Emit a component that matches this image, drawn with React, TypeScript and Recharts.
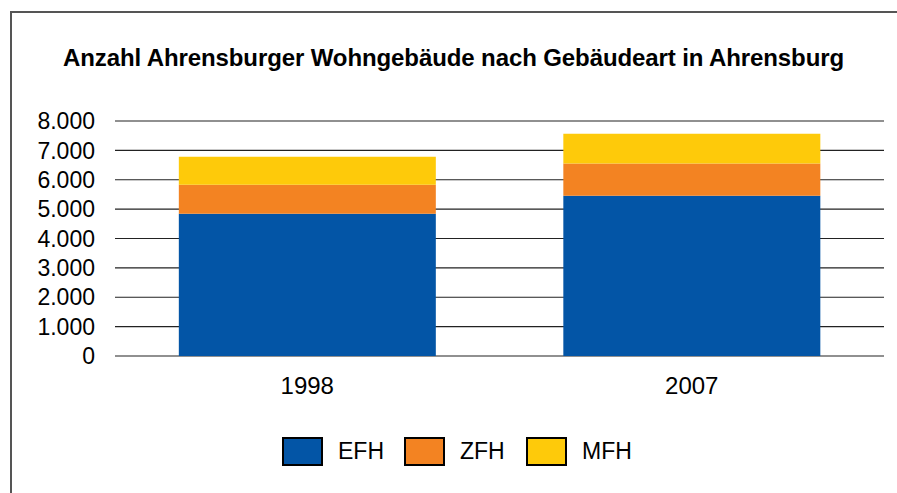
import { Bar, BarChart, CartesianGrid, XAxis, YAxis } from "recharts";

const YEARS = ["1998", "2007"];
const EFH = [4840, 5455];
const ZFH = [990, 1095];
const MFH = [950, 1020];
const Y_TICKS = [0, 1000, 2000, 3000, 4000, 5000, 6000, 7000, 8000];

const SERIES = [
  { key: "EFH", color: "#0355a6" },
  { key: "ZFH", color: "#f38322" },
  { key: "MFH", color: "#feca0a" },
];

const data = YEARS.map((year, i) => ({
  year,
  EFH: EFH[i],
  ZFH: ZFH[i],
  MFH: MFH[i],
}));

const FONT = '"Liberation Sans", Arial, Helvetica, sans-serif';

// German thousands separator, e.g. 8.000
const fmt = (v: number) =>
  String(v).replace(/\B(?=(\d{3})+(?!\d))/g, ".");

export default function App() {
  return (
    <div
      style={{
        position: "absolute",
        left: 0,
        top: 0,
        width: 897,
        height: 493,
        background: "#fff",
        fontFamily: FONT,
        overflow: "hidden",
      }}
    >
      <div
        style={{
          position: "absolute",
          left: 10,
          top: 11,
          right: 0,
          bottom: 0,
          borderLeft: "2px solid #555",
          borderTop: "2px solid #555",
        }}
      />
      <div
        style={{
          position: "absolute",
          left: 10,
          right: 0,
          top: 44,
          textAlign: "center",
          fontWeight: "bold",
          fontSize: 24,
          letterSpacing: -0.1,
          color: "#000",
        }}
      >
        Anzahl Ahrensburger Wohngebäude nach Gebäudeart in Ahrensburg
      </div>
      <div style={{ position: "absolute", left: 0, top: 0 }}>
        <BarChart
          width={897}
          height={493}
          data={data}
          margin={{ top: 121, right: 13, left: 0, bottom: 97 }}
          barCategoryGap="16.6%"
        >
          <CartesianGrid vertical={false} stroke="#222" strokeWidth={1.2} />
          <XAxis
            dataKey="year"
            axisLine={false}
            tickLine={false}
            tickSize={0}
            tickMargin={21}
            height={40}
            tick={{ fontSize: 24, fill: "#000", fontFamily: FONT }}
          />
          <YAxis
            domain={[0, 8000]}
            ticks={Y_TICKS}
            width={115}
            axisLine={false}
            tickLine={false}
            tickSize={0}
            tickMargin={20}
            tickFormatter={fmt}
            interval={0}
            tick={{ fontSize: 23, fill: "#000", fontFamily: FONT }}
          />
          {SERIES.map((s) => (
            <Bar
              key={s.key}
              dataKey={s.key}
              stackId="a"
              fill={s.color}
              isAnimationActive={false}
            />
          ))}
        </BarChart>
      </div>
      <div
        style={{
          position: "absolute",
          left: 282,
          top: 437,
          display: "flex",
          alignItems: "center",
        }}
      >
        {SERIES.map((s) => (
          <div
            key={s.key}
            style={{ display: "flex", alignItems: "center", width: 122 }}
          >
            <div
              style={{
                width: 37,
                height: 25,
                background: s.color,
                border: "2px solid #000",
              }}
            />
            <span style={{ marginLeft: 15, fontSize: 23, color: "#000" }}>
              {s.key}
            </span>
          </div>
        ))}
      </div>
    </div>
  );
}
